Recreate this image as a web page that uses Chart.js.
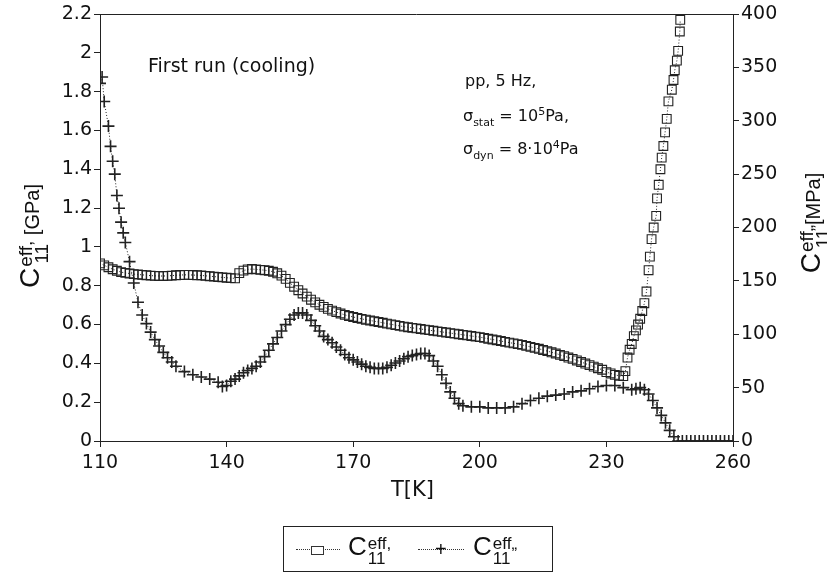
<!DOCTYPE html>
<html>
<head>
<meta charset="utf-8">
<script src="https://cdn.jsdelivr.net/npm/chart.js@4.4.1/dist/chart.umd.min.js"></script>
<style>
  body { margin: 0; background: #fff; }
  #wrap { position: relative; width: 827px; height: 575px; font-family: "DejaVu Sans", sans-serif; color: #111; }
  canvas { position: absolute; left: 0; top: 0; }
  .txt { position: absolute; white-space: nowrap; line-height: 1; }
  .C { font-size: 26px; }
  .ss { display: inline-flex; flex-direction: column; vertical-align: middle; font-size: 17px; line-height: 15px; margin-left: 1px; }
  .rot { position: absolute; white-space: nowrap; font-family: "Liberation Sans", Arial, sans-serif; text-align: center; line-height: 34px; }
  #legend { position: absolute; left: 283px; top: 526px; width: 268px; height: 44px; border: 1.5px solid #222; font-family: "Liberation Sans", Arial, sans-serif; }
  .dl { position: absolute; top: 22px; height: 0; border-top: 1px dotted #333; }
  .sq { position: absolute; width: 11px; height: 7px; border: 1px solid #333; background: #fff; }
  .cr { position: absolute; font-size: 20px; line-height: 1; }
</style>
</head>
<body>
<div id="wrap">
  <canvas id="myChart" width="827" height="575"></canvas>

  <div class="txt" style="left:148px; top:56px; font-size:19px;">First run (cooling)</div>
  <div class="txt" style="left:465px; top:73px; font-size:16px;">pp, 5 Hz,</div>
  <div class="txt" style="left:463px; top:106px; font-size:16px;">&sigma;<sub style="font-size:11px">stat</sub> = 10<sup style="font-size:11px">5</sup>Pa,</div>
  <div class="txt" style="left:463px; top:139px; font-size:16px;">&sigma;<sub style="font-size:11px">dyn</sub> = 8&middot;10<sup style="font-size:11px">4</sup>Pa</div>

  <div class="txt" style="left:391px; top:479px; font-size:21px;">T[K]</div>

  <div class="rot" style="left:-40px; top:219px; width:140px; height:34px; font-size:20px; transform: rotate(-90deg);">
    <span class="C" style="font-size:28px">C</span><span class="ss" style="font-size:19px; line-height:16px"><span>eff,</span><span>11</span></span> [GPa]
  </div>
  <div class="rot" style="left:741px; top:206px; width:140px; height:34px; font-size:20px; transform: rotate(-90deg);">
    <span class="C" style="font-size:28px">C</span><span class="ss" style="font-size:19px; line-height:16px"><span>eff„</span><span>11</span></span>[MPa]
  </div>

  <div id="legend">
    <div class="dl" style="left:12px; width:44px;"></div>
    <div class="sq" style="left:27px; top:19px;"></div>
    <div class="txt" style="left:64px; top:6px;"><span class="C">C</span><span class="ss"><span>eff,</span><span>11</span></span></div>
    <div class="dl" style="left:134px; width:46px;"></div>
    <div class="cr" style="left:151px; top:12px;">+</div>
    <div class="txt" style="left:189px; top:6px;"><span class="C">C</span><span class="ss"><span>eff„</span><span>11</span></span></div>
  </div>
</div>

<script>
// C11 eff' (GPa, left axis)
const tempStorage = [
  110, 111, 112, 113, 114, 115, 116, 117, 118, 119, 120, 121, 122, 123, 124, 125, 126, 127, 128, 129,
  130, 131, 132, 133, 134, 135, 136, 137, 138, 139, 140, 141, 142, 143, 144, 145, 146, 147, 148, 149,
  150, 151, 152, 153, 154, 155, 156, 157, 158, 159, 160, 161, 162, 163, 164, 165, 166, 167, 168, 169,
  170, 171, 172, 173, 174, 175, 176, 177, 178, 179, 180, 181, 182, 183, 184, 185, 186, 187, 188, 189,
  190, 191, 192, 193, 194, 195, 196, 197, 198, 199, 200, 201, 202, 203, 204, 205, 206, 207, 208, 209,
  210, 211, 212, 213, 214, 215, 216, 217, 218, 219, 220, 221, 222, 223, 224, 225, 226, 227, 228, 229,
  230, 231, 232, 233, 234, 234.5, 235, 235.5, 236, 236.5, 237, 237.5, 238, 238.5, 239, 239.5, 240,
  240.3, 240.7, 241.2, 241.8, 242, 242.4, 242.8, 243.1, 243.5, 243.9, 244.3, 244.7, 245.5, 245.9,
  246.2, 246.7, 247, 247.4, 247.5
];
const storage = [
  0.915, 0.905, 0.895, 0.885, 0.877, 0.870, 0.866, 0.863, 0.860, 0.858, 0.856, 0.854, 0.852, 0.851, 0.850, 0.850, 0.851, 0.852, 0.854, 0.855,
  0.856, 0.856, 0.855, 0.854, 0.853, 0.851, 0.849, 0.847, 0.845, 0.843, 0.841, 0.839, 0.838, 0.865, 0.878, 0.884, 0.886, 0.884, 0.882, 0.880,
  0.877, 0.872, 0.864, 0.852, 0.835, 0.815, 0.795, 0.777, 0.760, 0.744, 0.728, 0.714, 0.702, 0.691, 0.681, 0.672, 0.664, 0.657, 0.650, 0.644,
  0.639, 0.634, 0.629, 0.625, 0.621, 0.617, 0.613, 0.609, 0.605, 0.601, 0.597, 0.593, 0.589, 0.586, 0.583, 0.580, 0.577, 0.574, 0.571, 0.568,
  0.565, 0.562, 0.559, 0.556, 0.553, 0.550, 0.547, 0.544, 0.541, 0.538, 0.535, 0.531, 0.527, 0.523, 0.519, 0.515, 0.511, 0.507, 0.503, 0.499,
  0.495, 0.490, 0.485, 0.480, 0.475, 0.469, 0.463, 0.457, 0.451, 0.444, 0.437, 0.430, 0.423, 0.415, 0.407, 0.399, 0.391, 0.383, 0.375, 0.367,
  0.355, 0.348, 0.341, 0.336, 0.334, 0.36, 0.43, 0.47, 0.50, 0.54, 0.57, 0.60, 0.63, 0.67, 0.71, 0.77, 0.88,
  0.95, 1.04, 1.10, 1.16, 1.25, 1.32, 1.40, 1.46, 1.52, 1.59, 1.66, 1.75, 1.81, 1.86,
  1.91, 1.96, 2.01, 2.11, 2.17
];

// C11 eff'' (MPa, right axis)
const tempLoss = [
  110, 110.5, 111, 112, 112.5, 113, 113.5, 114, 114.5, 115, 115.5, 116, 117, 118, 119, 120, 121, 122, 123, 124,
  125, 126, 127, 128, 130, 132, 134, 136, 138, 139, 140, 141, 142, 143, 144, 145, 146, 147, 148, 149,
  150, 151, 152, 153, 154, 155, 156, 157, 158, 159, 160, 161, 162, 163, 164, 165, 166, 167, 168, 169,
  170, 171, 172, 173, 174, 175, 176, 177, 178, 179, 180, 181, 182, 183, 184, 185, 186, 187, 188, 189,
  190, 191, 192, 193, 194, 195, 196, 198, 200, 202, 204, 206, 208, 210, 212, 214, 216, 218, 220, 222,
  224, 226, 228, 230, 232, 234, 236, 237, 238, 239, 240, 241, 242, 243, 244, 245, 246, 247, 248, 249,
  250, 251, 252, 253, 254, 255, 256, 257, 258, 259, 260
];
const loss = [
  335, 341, 318, 295, 276, 262, 250, 230, 218, 205, 195, 186, 168, 148, 130, 118, 110, 102, 95, 89,
  83, 78, 74, 70, 65, 62, 60, 58, 55, 51, 52, 56, 58, 61, 64, 66, 68, 70, 74, 79,
  85, 91, 97, 103, 109, 114, 118, 120, 120, 118, 113, 108, 103, 98, 95, 92, 88, 85, 81, 78,
  76, 74, 72, 70, 69, 68, 68, 68, 69, 71, 73, 75, 77, 79, 80, 81, 82, 82, 80, 75,
  70, 62, 54, 46, 40, 35, 33, 32, 32, 31, 31, 31, 32, 35, 38, 40, 42, 43, 44, 46,
  47, 49, 51, 52, 52, 50, 48, 49, 50, 48, 44, 38, 31, 24, 17, 10, 4, 0, 0, 0,
  0, 0, 0, 0, 0, 0, 0, 0, 0, 0, 0
];

const ink = "#222";
const tickFont = { size: 19, family: "DejaVu Sans" };

const topLine = {
  id: "topLine",
  afterDraw(chart) {
    const ctx = chart.ctx;
    const a = chart.chartArea;
    ctx.save();
    ctx.strokeStyle = ink;
    ctx.lineWidth = 1;
    ctx.beginPath();
    ctx.moveTo(a.left, a.top + 0.5);
    ctx.lineTo(a.right, a.top + 0.5);
    ctx.stroke();
    ctx.restore();
  },
};

const ctx = document.getElementById("myChart");
new Chart(ctx, {
  type: "scatter",
  data: {
    datasets: [
      {
        label: "C11 eff'",
        data: tempStorage.map((t, i) => ({ x: t, y: storage[i] })),
        yAxisID: "y",
        showLine: true,
        borderColor: ink,
        borderWidth: 1,
        borderDash: [1, 2],
        pointStyle: "rect",
        pointRadius: 6.2,
        pointBorderWidth: 1.1,
        pointBorderColor: ink,
        pointBackgroundColor: "rgba(255,255,255,0)",
      },
      {
        label: "C11 eff''",
        data: tempLoss.map((t, i) => ({ x: t, y: loss[i] })),
        yAxisID: "y2",
        showLine: true,
        borderColor: ink,
        borderWidth: 1,
        borderDash: [1, 2],
        pointStyle: "cross",
        pointRadius: 6,
        pointBorderWidth: 1.6,
        pointBorderColor: ink,
      },
    ],
  },
  options: {
    responsive: false,
    animation: false,
    layout: { padding: { left: 40, right: 34, top: 14, bottom: 94 } },
    plugins: { legend: { display: false }, tooltip: { enabled: false } },
    scales: {
      x: {
        type: "linear",
        min: 110,
        max: 260,
        afterFit: (s) => { s.height = 40; },
        ticks: { stepSize: 30, color: "#111", font: tickFont, padding: 5 },
        grid: { drawOnChartArea: false, tickLength: 6, color: ink },
        border: { color: ink, width: 1 },
      },
      y: {
        position: "left",
        min: 0,
        max: 2.2,
        afterFit: (s) => { s.width = 60; },
        ticks: {
          stepSize: 0.2,
          color: "#111",
          font: tickFont,
          padding: 2,
          callback: (v) => String(+v.toFixed(1)),
        },
        grid: { drawOnChartArea: false, tickLength: 6, color: ink },
        border: { color: ink, width: 1 },
      },
      y2: {
        position: "right",
        min: 0,
        max: 400,
        afterFit: (s) => { s.width = 60; },
        ticks: { stepSize: 50, color: "#111", font: tickFont, padding: 2 },
        grid: { drawOnChartArea: false, tickLength: 6, color: ink },
        border: { color: ink, width: 1 },
      },
    },
  },
  plugins: [topLine],
});
</script>
</body>
</html>
